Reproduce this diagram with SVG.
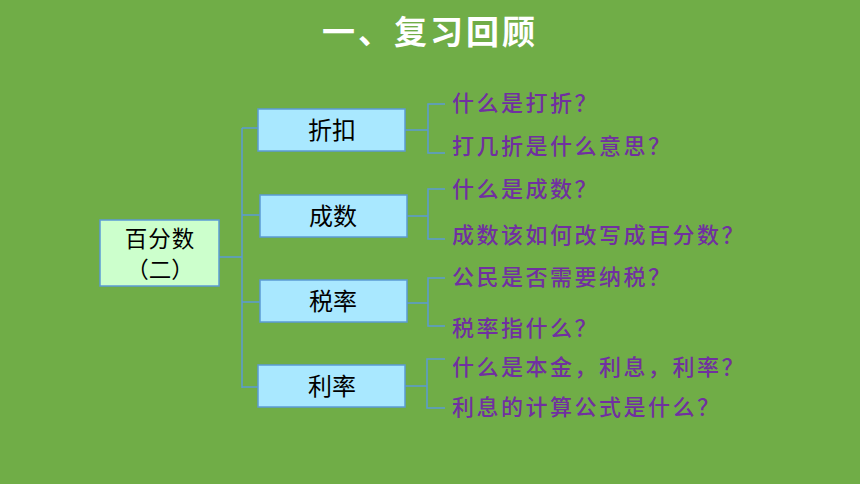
<svg xmlns="http://www.w3.org/2000/svg" width="860" height="484" viewBox="0 0 860 484">
<style>
.bg{fill:#70AD47}
.title{font-family:"Noto Sans CJK SC","Noto Sans",sans-serif;font-size:33px;font-weight:bold;fill:#FFFFFF;letter-spacing:3px}
.box{fill:#A9E8FF;stroke:#5B9BD5;stroke-width:1.5}
.root{fill:#CCFFCC;stroke:#5B9BD5;stroke-width:1.5}
.lbl{font-family:"Noto Sans CJK SC","Noto Sans",sans-serif;font-size:24px;fill:#000000;text-anchor:middle}
.rl{font-size:22.5px}
.q{font-family:"Noto Sans CJK SC","Noto Sans",sans-serif;font-size:22px;font-weight:500;fill:#7030A0;letter-spacing:2.5px}
.ln{fill:none;stroke:#5B9BD5;stroke-width:1.5}
</style>
<rect class="bg" x="0" y="0" width="860" height="484"/>
<text class="title" x="430" y="44" text-anchor="middle">一、复习回顾</text>
<g id="connectors">
<path class="ln" d="M219,257 H242 M242,128 V388 M242,128 H258 M242,215 H260 M242,302 H260 M242,387 H258"/>
<path class="ln" d="M405,130 H428 M445,104 H428 V153 H445"/>
<path class="ln" d="M407,216 H428 M445,189 H428 V239 H445"/>
<path class="ln" d="M407,303 H428 M445,278 H428 V326 H445"/>
<path class="ln" d="M405,386 H427 M445,359 H427 V408 H445"/>
</g>
<g id="root">
<rect class="root" x="100" y="220" width="119" height="66"/>
<text class="lbl rl" x="160" y="247" letter-spacing="1">百分数</text>
<text class="lbl rl" x="160" y="278">（二）</text>
</g>
<g id="n1">
<rect class="box" x="258" y="109" width="147" height="42"/>
<text class="lbl" x="332" y="139">折扣</text>
</g>
<g id="n2">
<rect class="box" x="260" y="195" width="147" height="42"/>
<text class="lbl" x="333" y="225">成数</text>
</g>
<g id="n3">
<rect class="box" x="260" y="280" width="147" height="42"/>
<text class="lbl" x="333" y="310">税率</text>
</g>
<g id="n4">
<rect class="box" x="258" y="365" width="147" height="42"/>
<text class="lbl" x="332" y="395">利率</text>
</g>
<g id="questions">
<text class="q" x="452" y="111">什么是打折？</text>
<text class="q" x="452" y="154">打几折是什么意思？</text>
<text class="q" x="452" y="197">什么是成数？</text>
<text class="q" x="452" y="243">成数该如何改写成百分数？</text>
<text class="q" x="452" y="285">公民是否需要纳税？</text>
<text class="q" x="452" y="336">税率指什么？</text>
<text class="q" x="452" y="375">什么是本金，利息，利率？</text>
<text class="q" x="452" y="415">利息的计算公式是什么？</text>
</g>
</svg>
